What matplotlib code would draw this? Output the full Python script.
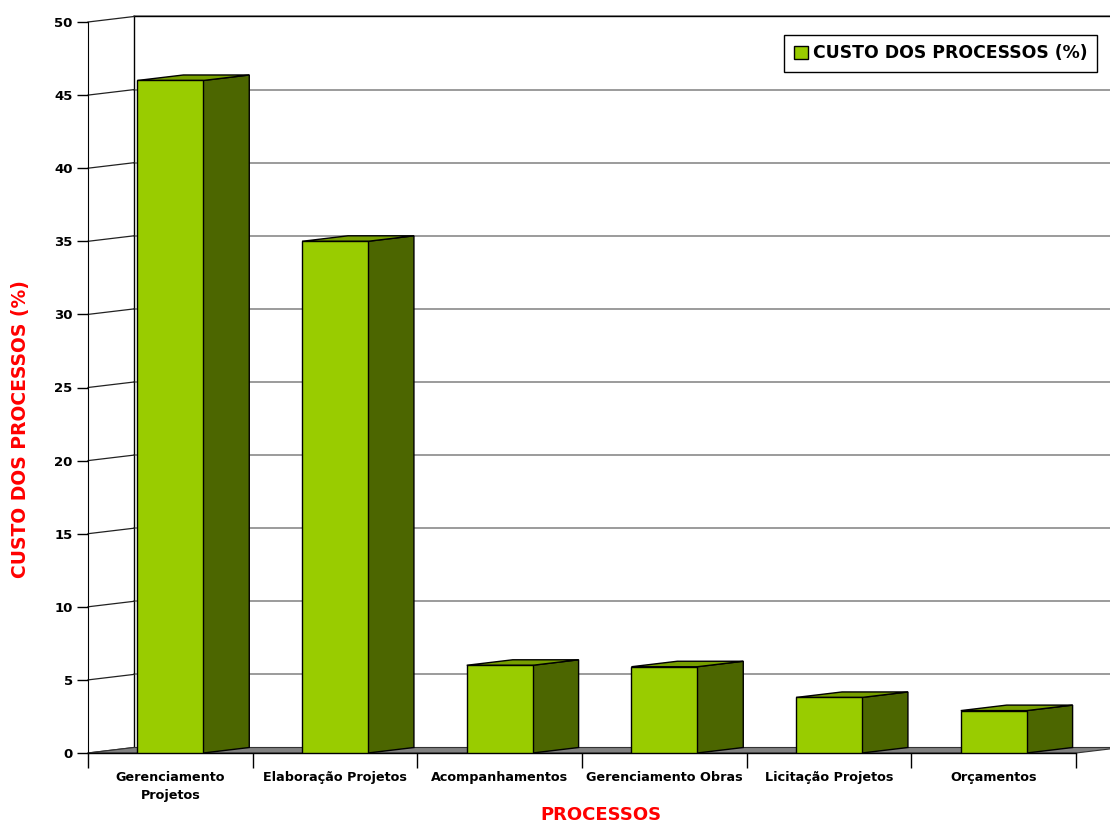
import matplotlib
matplotlib.use("Agg")
import matplotlib.pyplot as plt
from matplotlib.patches import Polygon, Rectangle, Patch

# dados do grafico
processos = ["Gerenciamento\nProjetos", "Elaboração Projetos", "Acompanhamentos",
             "Gerenciamento Obras", "Licitação Projetos", "Orçamentos"]
custos = [46, 35, 6.0, 5.9, 3.8, 2.9]
y_ticks = [0, 5, 10, 15, 20, 25, 30, 35, 40, 45, 50]

plt.rcParams['font.family'] = ['DejaVu Sans']

cor_frente = "#99CC00"
cor_lado = "#4C6600"
cor_topo = "#779F00"
cor_grade = "#808080"
vermelho = "#FF0000"

fig = plt.figure(figsize=(11.10, 8.23), dpi=100)
ax = fig.add_axes([88/1110, 70/823, 988/1110, 731/823])

n = len(custos)
ymax = 50
ax.set_xlim(-0.5, n - 0.5)
ax.set_ylim(0, ymax)

# profundidade do efeito 3D (em unidades de dados)
dx = 46 / (988 / n)
dy = 5.5 / (731 / ymax)
larg = 0.4

# parede do fundo
x0, x1 = -0.5 + dx, n - 0.5 + dx
ax.add_patch(Polygon([(x0, dy), (x1, dy), (x1, ymax + dy), (x0, ymax + dy)],
                     closed=True, facecolor="white", edgecolor="none", clip_on=False, zorder=0))
for t in y_ticks[1:]:
    ax.plot([x0, x1], [t + dy, t + dy], color=cor_grade, lw=1.1, clip_on=False, zorder=1)
ax.plot([x0, x1], [ymax + dy, ymax + dy], color="black", lw=1, clip_on=False, zorder=1)
ax.plot([x0, x0], [dy, ymax + dy], color="black", lw=1, clip_on=False, zorder=1)

# parede lateral (linhas diagonais)
for t in y_ticks:
    ax.plot([-0.5, x0], [t, t + dy], color="#222222", lw=0.9, clip_on=False, zorder=1)

# piso
ax.add_patch(Polygon([(-0.5, 0), (n - 0.5, 0), (x1, dy), (x0, dy)], closed=True,
                     facecolor="#808080", edgecolor="#333333", lw=0.8, clip_on=False, zorder=2))
ax.plot([-0.5, n - 0.5], [0, 0], color="black", lw=1, clip_on=False, zorder=2)

# barras 3D
for i, v in enumerate(custos):
    a, b = i - larg / 2, i + larg / 2
    ax.add_patch(Polygon([(b, 0), (b + dx, dy), (b + dx, v + dy), (b, v)], closed=True,
                         facecolor=cor_lado, edgecolor="black", lw=1, zorder=3))
    ax.add_patch(Polygon([(a, v), (b, v), (b + dx, v + dy), (a + dx, v + dy)], closed=True,
                         facecolor=cor_topo, edgecolor="black", lw=1, zorder=3))
    ax.add_patch(Rectangle((a, 0), larg, v, facecolor=cor_frente, edgecolor="black",
                           lw=1, zorder=4))

# eixos
for s in ["top", "right", "bottom"]:
    ax.spines[s].set_visible(False)
ax.spines["left"].set_color("black")
ax.spines["left"].set_zorder(5)
ax.set_yticks(y_ticks)
ax.tick_params(axis="y", length=8, width=1, labelsize=9.5, pad=3)
for lb in ax.get_yticklabels():
    lb.set_fontweight("bold")

ax.set_xticks(range(n))
ax.set_xticklabels(processos, fontsize=9.2, fontweight="bold", linespacing=1.5)
ax.set_xticks([i - 0.5 for i in range(n + 1)], minor=True)
ax.tick_params(axis="x", which="major", length=0, pad=13)
ax.tick_params(axis="x", which="minor", length=11, width=1, color="black")

ax.set_xlabel("PROCESSOS", color=vermelho, fontsize=13, fontweight="bold")
ax.xaxis.set_label_coords(0.519, -0.085)
ax.xaxis.label.set_va("center")
ax.set_ylabel("CUSTO DOS PROCESSOS (%)", color=vermelho, fontsize=13.5, fontweight="bold")
ax.yaxis.set_label_coords(-0.068, 0.443)
ax.yaxis.label.set_va("center")

ax.set_facecolor("none")

leg = fig.legend(handles=[Patch(facecolor=cor_frente, edgecolor="black", label="CUSTO DOS PROCESSOS (%)")],
                 loc="upper right", bbox_to_anchor=(1097/1110, 788/823), borderaxespad=0,
                 fancybox=False, framealpha=1, edgecolor="black",
                 prop={"weight": "bold", "size": 12.4},
                 handlelength=0.8, handleheight=0.8, handletextpad=0.3, borderpad=0.55)
leg.get_frame().set_linewidth(1)

fig.savefig("out.png", dpi=100)
